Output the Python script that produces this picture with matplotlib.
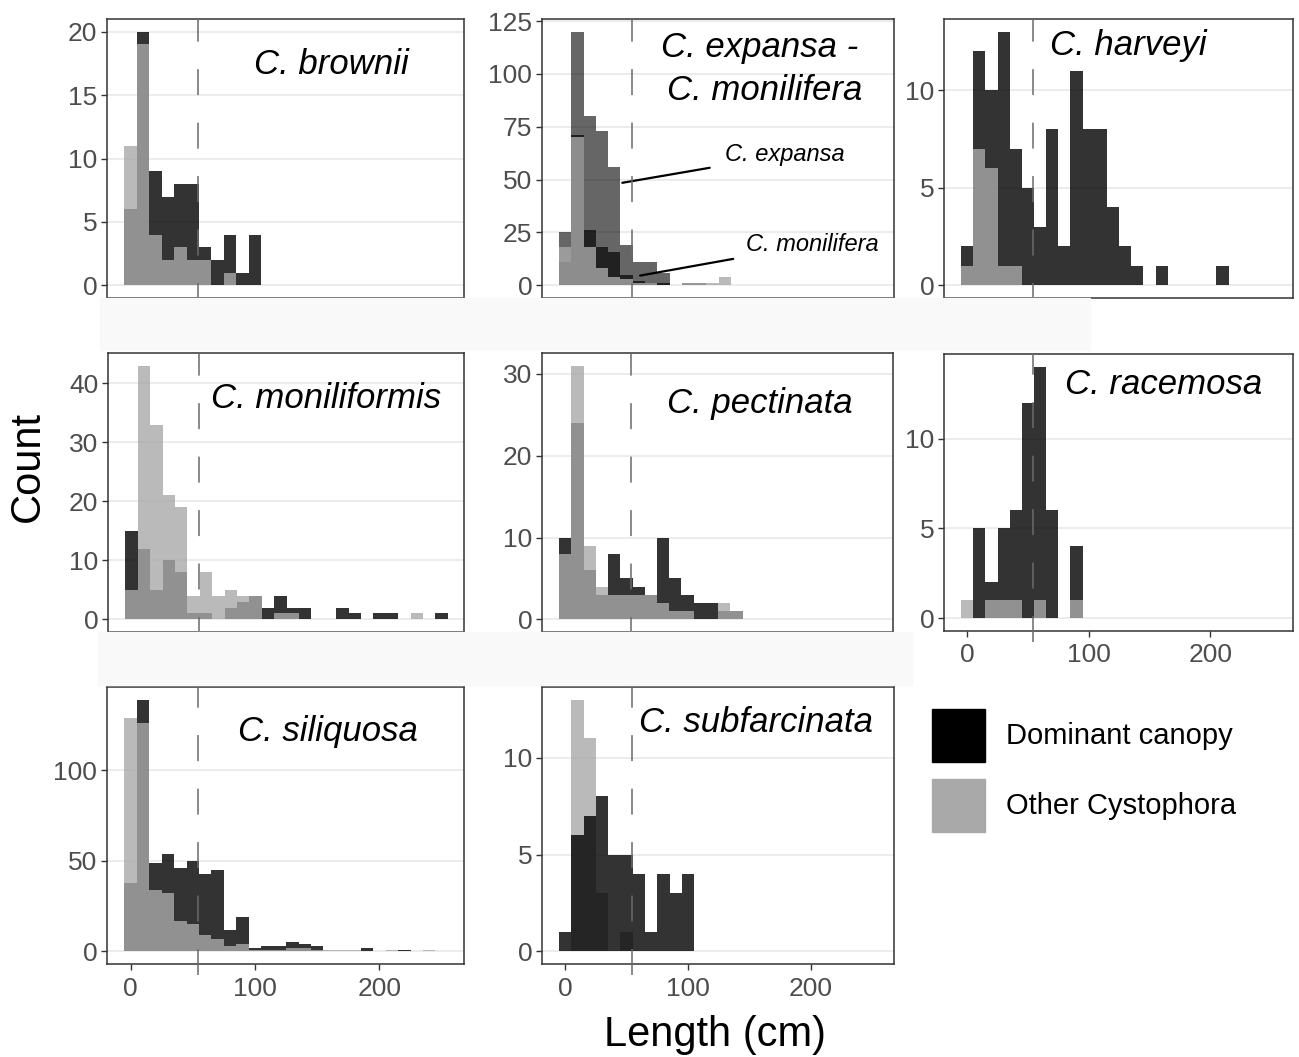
import numpy as np
import matplotlib
matplotlib.use("Agg")
import matplotlib.pyplot as plt
from matplotlib.patches import Rectangle

plt.rcParams['font.family'] = ['Liberation Sans', 'DejaVu Sans']

W, H = 1299, 1057

# bin centres (cm)
bins = [0, 10, 20, 30, 40, 50, 60, 70, 80, 90, 100, 110, 120, 130, 140, 150,
        160, 170, 180, 190, 200, 210, 220, 230, 240, 250]

# counts per bin: dominant canopy / other Cystophora
brownii_dom = [6, 20, 9, 7, 8, 8, 3, 2, 4, 1, 4, 0, 0, 0, 0, 0, 0, 0, 0, 0, 0, 0, 0, 0, 0, 0]
brownii_oth = [11, 19, 4, 2, 3, 2, 2, 0, 1, 0, 0, 0, 0, 0, 0, 0, 0, 0, 0, 0, 0, 0, 0, 0, 0, 0]

expansa_dom = [25, 120, 80, 73, 56, 19, 11, 11, 6, 0, 0, 0, 0, 0, 0, 0, 0, 0, 0, 0, 0, 0, 0, 0, 0, 0]
monilifera_dom = [11, 71, 26, 18, 16, 5, 2, 1, 1, 0, 1, 1, 0, 0, 0, 0, 0, 0, 0, 0, 0, 0, 0, 0, 0, 0]
expmon_oth = [18, 70, 18, 8, 4, 3, 1, 1, 0, 0, 1, 1, 1, 4, 0, 0, 0, 0, 0, 0, 0, 0, 0, 0, 0, 0]

harveyi_dom = [2, 12, 10, 13, 7, 5, 3, 8, 2, 11, 8, 8, 4, 2, 1, 0, 1, 0, 0, 0, 0, 1, 0, 0, 0, 0]
harveyi_oth = [1, 7, 6, 1, 1, 0, 0, 0, 0, 0, 0, 0, 0, 0, 0, 0, 0, 0, 0, 0, 0, 0, 0, 0, 0, 0]

moniliformis_dom = [15, 12, 5, 10, 8, 1, 1, 0, 2, 3, 4, 2, 4, 2, 2, 0, 0, 2, 1, 0, 1, 1, 0, 0, 0, 1]
moniliformis_oth = [5, 43, 33, 21, 19, 4, 8, 4, 5, 4, 4, 0, 1, 1, 0, 0, 0, 0, 0, 0, 0, 0, 0, 1, 0, 0]

pectinata_dom = [10, 24, 6, 3, 8, 5, 4, 3, 10, 5, 3, 2, 2, 1, 1, 0, 0, 0, 0, 0, 0, 0, 0, 0, 0, 0]
pectinata_oth = [8, 31, 9, 4, 3, 3, 3, 3, 2, 1, 1, 0, 0, 2, 1, 0, 0, 0, 0, 0, 0, 0, 0, 0, 0, 0]

racemosa_dom = [0, 5, 2, 5, 6, 12, 14, 6, 0, 4, 0, 0, 0, 0, 0, 0, 0, 0, 0, 0, 0, 0, 0, 0, 0, 0]
racemosa_oth = [1, 0, 1, 1, 1, 0, 1, 0, 0, 1, 0, 0, 0, 0, 0, 0, 0, 0, 0, 0, 0, 0, 0, 0, 0, 0]

siliquosa_dom = [38, 139, 49, 54, 46, 50, 43, 45, 12, 19, 2, 3, 3, 5, 4, 3, 0, 0, 0, 2, 0, 0, 1, 0, 0, 0]
siliquosa_oth = [129, 126, 34, 32, 17, 15, 9, 7, 3, 4, 1, 1, 1, 2, 2, 1, 1, 1, 1, 0, 0, 1, 0, 0, 1, 0]

subfarcinata_dom = [1, 6, 7, 8, 5, 5, 4, 1, 4, 3, 4, 0, 0, 0, 0, 0, 0, 0, 0, 0, 0, 0, 0, 0, 0, 0]
subfarcinata_oth = [0, 13, 11, 3, 0, 1, 0, 0, 0, 0, 0, 0, 0, 0, 0, 0, 0, 0, 0, 0, 0, 0, 0, 0, 0, 0]

threshold = 54  # dashed reference line (cm)

DOM_C = '#000000'
OTH_C = '#a9a9a9'

TICK_FS = 19
TITLE_FS = 25

fig = plt.figure(figsize=(W / 100, H / 100), dpi=100)

# faint bands between rows
fig.patches.append(Rectangle((100 / W, 1 - 350 / H), 990 / W, 52 / H,
                             transform=fig.transFigure, color='#f9f9f9', zorder=0))
fig.patches.append(Rectangle((98 / W, 1 - 685 / H), 814 / W, 53 / H,
                             transform=fig.transFigure, color='#f9f9f9', zorder=0))


def px_axes(l, t, r, b):
    return fig.add_axes([l / W, 1 - b / H, (r - l) / W, (b - t) / H])


def style(ax, ymax, yticks, show_x):
    ax.set_xlim(-19, 268)
    ax.set_ylim(-0.05 * ymax, 1.05 * ymax)
    ax.set_yticks(yticks)
    ax.set_xticks([0, 100, 200])
    ax.grid(axis='y', color='#ebebeb', linewidth=1.3, zorder=0)
    ax.set_axisbelow(True)
    for s in ax.spines.values():
        s.set_color('#333333')
        s.set_linewidth(1.1)
    ax.tick_params(axis='both', colors='#333333', length=4, width=1.0,
                   labelsize=TICK_FS, labelcolor='#4d4d4d', pad=3)
    ax.tick_params(axis='x', pad=5)
    if not show_x:
        ax.tick_params(axis='x', labelbottom=False, length=0)
    ln = ax.axvline(threshold, ymin=-0.04, ymax=1.0, color='#6a6a6a',
                    linewidth=1.1, clip_on=False, zorder=5)
    ln.set_dashes((17, 18))


def hist2(ax, dom, oth, dom_top=False):
    if dom_top:
        ax.bar(bins, oth, width=10, color=OTH_C, alpha=0.8, linewidth=0, zorder=2)
        ax.bar(bins, dom, width=10, color=DOM_C, alpha=0.8, linewidth=0, zorder=3)
    else:
        ax.bar(bins, dom, width=10, color=DOM_C, alpha=0.8, linewidth=0, zorder=2)
        ax.bar(bins, oth, width=10, color=OTH_C, alpha=0.8, linewidth=0, zorder=3)


def title(x, y, s, ha='left'):
    fig.text(x / W, 1 - y / H, s, fontsize=TITLE_FS, style='italic', ha=ha, va='center',
             color='black')


# row 1
ax = px_axes(107, 19, 464, 298)
hist2(ax, brownii_dom, brownii_oth)
style(ax, 20, [0, 5, 10, 15, 20], False)
title(254, 64, 'C. brownii')

ax = px_axes(542, 19, 894, 298)
ax.bar(bins, expansa_dom, width=10, color=DOM_C, alpha=0.6, linewidth=0, zorder=2)
ax.bar(bins, monilifera_dom, width=10, color=DOM_C, alpha=0.67, linewidth=0, zorder=3)
ax.bar(bins, expmon_oth, width=10, color=OTH_C, alpha=0.8, linewidth=0, zorder=4)
style(ax, 120, [0, 25, 50, 75, 100, 125], False)
title(760, 47, 'C. expansa -', ha='center')
title(765, 90, 'C. monilifera', ha='center')
ax.annotate('C. expansa', xy=(46.5, 48.5), xytext=(130, 61.7), fontsize=17, style='italic',
            ha='left', va='center',
            arrowprops=dict(arrowstyle='-', color='black', lw=1.6, shrinkA=9, shrinkB=0))
ax.annotate('C. monilifera', xy=(61, 4.6), xytext=(147, 19.2), fontsize=17, style='italic',
            ha='left', va='center',
            arrowprops=dict(arrowstyle='-', color='black', lw=1.6, shrinkA=7, shrinkB=0))

ax = px_axes(944, 19, 1293, 298)
hist2(ax, harveyi_dom, harveyi_oth)
style(ax, 13, [0, 5, 10], False)
title(1050, 45, 'C. harveyi')

# row 2
ax = px_axes(108, 353, 464, 632)
hist2(ax, moniliformis_dom, moniliformis_oth)
style(ax, 43, [0, 10, 20, 30, 40], False)
title(211, 398, 'C. moniliformis')

ax = px_axes(542, 353, 893, 632)
hist2(ax, pectinata_dom, pectinata_oth)
style(ax, 31, [0, 10, 20, 30], False)
title(667, 404, 'C. pectinata')

ax = px_axes(944, 354, 1293, 631)
hist2(ax, racemosa_dom, racemosa_oth)
style(ax, 14, [0, 5, 10], True)
title(1065, 384, 'C. racemosa')

# row 3
ax = px_axes(107, 687, 464, 964)
hist2(ax, siliquosa_dom, siliquosa_oth)
style(ax, 139, [0, 50, 100], True)
title(238, 732, 'C. siliquosa')

ax = px_axes(542, 687, 894, 964)
hist2(ax, subfarcinata_dom, subfarcinata_oth, dom_top=True)
style(ax, 13, [0, 5, 10], True)
title(639, 722, 'C. subfarcinata')

# legend
for (y0, c, lab) in [(709, DOM_C, 'Dominant canopy'), (779, OTH_C, 'Other Cystophora')]:
    fig.patches.append(Rectangle((932 / W, 1 - (y0 + 53) / H), 53 / W, 53 / H,
                                 transform=fig.transFigure, color=c, zorder=3))
    fig.text(1006 / W, 1 - (y0 + 27) / H, lab, fontsize=21, ha='left', va='center')

fig.text(715 / W, 1 - 1035 / H, 'Length (cm)', fontsize=30, ha='center', va='center')
fig.text(28 / W, 1 - 466 / H, 'Count', fontsize=30, ha='center', va='center',
         rotation=90)

fig.savefig('out.png', dpi=100)
